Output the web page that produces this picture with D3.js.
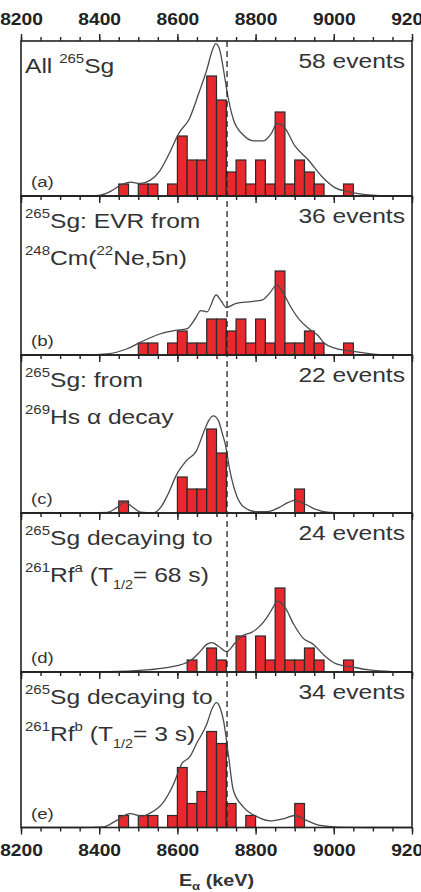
<!DOCTYPE html>
<html>
<head>
<meta charset="utf-8">
<script src="https://cdn.jsdelivr.net/npm/d3@7"></script>
<style>
  body { margin: 0; background: #fff; }
  text { font-family: "Liberation Sans", Arial, Helvetica, sans-serif; }
</style>
</head>
<body>
<script>
// 25 keV bins shared by all five panels
var binStarts = [8450, 8475, 8500, 8525, 8550, 8575, 8600, 8625, 8650, 8675, 8700, 8725,
                 8750, 8775, 8800, 8825, 8850, 8875, 8900, 8925, 8950, 8975, 9000, 9025];
var binWidth = 25;

var countsA = [1,0,1,1,0,1,5,3,3,10,8,2,3,1,3,1,7,1,3,2,1,0,0,1];
var countsB = [0,0,1,1,0,1,2,1,1,3,3,2,3,1,3,1,7,1,1,2,1,0,0,1];
var countsC = [1,0,0,0,0,0,3,2,2,7,5,0,0,0,0,0,0,0,2,0,0,0,0,0];
var countsD = [0,0,0,0,0,0,0,1,0,2,1,0,3,0,3,1,7,1,1,2,1,0,0,1];
var countsE = [1,0,1,1,0,1,5,2,3,8,7,2,0,1,0,0,0,0,2,0,0,0,0,0];

// smoothed spectra (energy, counts)
var curveA = [[8200,0],[8350,0],[8400,0.05],[8430,0.4],[8455,0.9],[8480,1.15],[8505,1.05],[8530,1.3],
  [8555,2.1],[8580,3.6],[8605,5.3],[8630,6.4],[8655,8.6],[8675,10.5],[8690,12.2],[8698,12.7],
  [8708,12.2],[8718,10.5],[8728,8.5],[8743,6.4],[8768,5.1],[8795,4.6],[8820,4.6],[8840,5.2],
  [8855,6.05],[8872,5.8],[8900,4.2],[8935,3.0],[8970,1.6],[9005,0.65],[9040,0.35],[9080,0.12],
  [9150,0],[9200,0]];
var curveB = [[8200,0],[8350,0],[8420,0.1],[8470,0.5],[8505,1.05],[8555,1.75],[8595,2.05],[8625,2.2],
  [8645,3.0],[8660,3.7],[8676,3.6],[8699,5.0],[8712,4.5],[8725,3.95],[8750,4.3],[8790,4.45],
  [8818,4.6],[8837,5.2],[8854,5.85],[8870,5.2],[8890,4.0],[8913,2.9],[8940,2.1],[8960,1.6],
  [8975,1.0],[9005,0.55],[9050,0.3],[9100,0.08],[9150,0],[9200,0]];
var curveC = [[8200,0],[8350,0],[8420,0.05],[8445,0.45],[8465,0.9],[8485,0.5],[8505,0.08],[8540,0.02],
  [8560,0.6],[8575,1.5],[8598,3.2],[8624,4.4],[8649,5.2],[8668,6.8],[8680,7.7],[8692,8.1],
  [8705,7.7],[8715,6.6],[8722,5.8],[8735,3.4],[8752,1.4],[8770,0.5],[8800,0.12],[8830,0.12],
  [8860,0.45],[8885,0.9],[8900,1.05],[8920,0.85],[8950,0.35],[8990,0.05],[9050,0],[9200,0]];
var curveD = [[8200,0],[8350,0],[8450,0.05],[8530,0.2],[8580,0.4],[8632,0.92],[8658,1.7],[8675,2.3],
  [8688,2.45],[8705,2.15],[8726,1.7],[8747,2.4],[8765,3.0],[8790,3.3],[8810,3.8],[8830,4.6],
  [8845,5.4],[8855,5.9],[8875,5.4],[8897,4.0],[8922,2.8],[8948,2.3],[8975,1.4],[9005,0.7],
  [9050,0.4],[9090,0.17],[9150,0.03],[9200,0]];
var curveE = [[8200,0],[8350,0],[8410,0.05],[8445,0.6],[8478,1.15],[8510,0.95],[8530,1.2],[8564,2.1],
  [8590,3.6],[8611,5.3],[8632,5.9],[8649,7.0],[8675,8.6],[8690,10.0],[8700,10.4],[8710,9.9],
  [8718,8.9],[8731,5.9],[8743,3.1],[8769,1.7],[8803,0.9],[8837,0.55],[8870,0.72],[8900,1.0],
  [8930,0.6],[8965,0.17],[9010,0.03],[9080,0],[9200,0]];

var eventLabels = ["58 events", "36 events", "22 events", "24 events", "34 events"];
var panelLetters = ["(a)", "(b)", "(c)", "(d)", "(e)"];
var titleLines = [
  [[["All ", "n"], ["265", "sup"], ["Sg", "n"]]],
  [[["265", "sup"], ["Sg: EVR from", "n"]],
   [["248", "sup"], ["Cm(", "n"], ["22", "sup"], ["Ne,5n)", "n"]]],
  [[["265", "sup"], ["Sg: from", "n"]],
   [["269", "sup"], ["Hs \u03b1 decay", "n"]]],
  [[["265", "sup"], ["Sg decaying to", "n"]],
   [["261", "sup"], ["Rf", "n"], ["a", "sup"], [" (T", "n"], ["1/2", "sub"], ["= 68 s)", "n"]]],
  [[["265", "sup"], ["Sg decaying to", "n"]],
   [["261", "sup"], ["Rf", "n"], ["b", "sup"], [" (T", "n"], ["1/2", "sub"], ["= 3 s)", "n"]]]
];
var majorTicks = [8200, 8400, 8600, 8800, 9000, 9200];
var dashedEnergy = 8727;

var allCounts = [countsA, countsB, countsC, countsD, countsE];
var allCurves = [curveA, curveB, curveC, curveD, curveE];

var width = 421, height = 892;
// panel borders from top to bottom
var edges = [41, 196, 355, 513, 672, 827.5];
var unit = 12;       // pixels per count
var stretch = 1.2;   // the figure is stretched sideways

var x = d3.scaleLinear().domain([8200, 9200]).range([21, 412]);
var minorTicks = d3.range(8200, 9201, 50);

var svg = d3.select("body").append("svg")
    .attr("width", width)
    .attr("height", height);

function richText(g, px, py, parts, size, anchor, weight) {
    var t = g.append("text")
        .attr("transform", "translate(" + px + "," + py + ") scale(" + stretch + ",1)")
        .attr("font-size", size)
        .attr("font-weight", weight || "normal")
        .attr("text-anchor", anchor || "start")
        .attr("fill", "#333")
        .style("white-space", "pre");
    var shift = 0;
    parts.forEach(function(p) {
        var dy, fs = size;
        if (p[1] === "sup") { dy = -10 - shift; shift = -10; fs = 12.5; }
        else if (p[1] === "sub") { dy = 7 - shift; shift = 7; fs = 12; }
        else if (p[1] === "sub2") { dy = 4 - shift; shift = 4; fs = 11; }
        else { dy = -shift; shift = 0; }
        t.append("tspan").attr("dy", dy).attr("font-size", fs).text(p[0]);
    });
    return t;
}

function styleTicks(a, labels) {
    a.select(".domain").remove();
    a.selectAll("line").attr("stroke", "#222").attr("stroke-width", 1.4);
    if (labels) {
        a.selectAll("text").attr("font-size", 16).attr("font-weight", "bold")
            .attr("fill", "#222").attr("transform", "scale(" + stretch + ",1)")
            .attr("font-family", "Liberation Sans, Arial, sans-serif");
    }
}

var line = d3.line()
    .x(function(d) { return x(d[0]); })
    .curve(d3.curveMonotoneX);

allCounts.forEach(function(counts, i) {
    var top = edges[i], bottom = edges[i + 1];
    var y = d3.scaleLinear().domain([0, (bottom - top) / unit]).range([bottom, top]);
    var g = svg.append("g");

    var bins = binStarts.map(function(b, k) { return {e: b, n: counts[k]}; })
        .filter(function(d) { return d.n > 0; });

    g.selectAll(".bar")
        .data(bins)
        .enter().append("rect")
        .attr("class", "bar")
        .attr("x", function(d) { return x(d.e); })
        .attr("y", function(d) { return y(d.n); })
        .attr("width", function(d) { return x(d.e + binWidth) - x(d.e); })
        .attr("height", function(d) { return bottom - y(d.n); })
        .attr("fill", "#e8282d")
        .attr("stroke", "#2a2a2a")
        .attr("stroke-width", 1.2);

    line.y(function(d) { return y(d[1]); });
    g.append("path")
        .datum(allCurves[i])
        .attr("fill", "none")
        .attr("stroke", "#4a4a4a")
        .attr("stroke-width", 1.3)
        .attr("d", line);

    // ticks on the lower edge, pointing down
    g.append("g")
        .attr("transform", "translate(0," + bottom + ")")
        .call(d3.axisBottom(x).tickValues(minorTicks).tickSize(4).tickFormat(""))
        .call(function(a) { styleTicks(a, false); });
    g.append("g")
        .attr("transform", "translate(0," + bottom + ")")
        .call(d3.axisBottom(x).tickValues(majorTicks).tickSize(7).tickPadding(10)
            .tickFormat(i === 4 ? d3.format("d") : ""))
        .call(function(a) { styleTicks(a, i === 4); });

    g.append("rect")
        .attr("x", x(8200)).attr("y", top)
        .attr("width", x(9200) - x(8200)).attr("height", bottom - top)
        .attr("fill", "none")
        .attr("stroke", "#222")
        .attr("stroke-width", 1.6);

    titleLines[i].forEach(function(parts, k) {
        richText(g, 25, top + (k === 0 ? 32 : 69), parts, 20.5);
    });
    richText(g, 405, top + 27, [[eventLabels[i], "n"]], 20.5, "end");
    richText(g, 31, bottom - 9, [[panelLetters[i], "n"]], 15.5);
});

// top axis
var topAxis = svg.append("g").attr("transform", "translate(0," + edges[0] + ")");
topAxis.append("g")
    .call(d3.axisTop(x).tickValues(minorTicks).tickSize(4).tickFormat(""))
    .call(function(a) { styleTicks(a, false); });
topAxis.append("g")
    .call(d3.axisTop(x).tickValues(majorTicks).tickSize(7).tickPadding(9).tickFormat(d3.format("d")))
    .call(function(a) { styleTicks(a, true); });

// dashed reference energy through all panels
svg.append("line")
    .attr("x1", x(dashedEnergy)).attr("x2", x(dashedEnergy))
    .attr("y1", edges[0]).attr("y2", edges[5])
    .attr("stroke", "#222")
    .attr("stroke-width", 1.3)
    .attr("stroke-dasharray", "6,4");

richText(svg, (x(8200) + x(9200)) / 2, 886, [["E", "n"], ["\u03b1", "sub2"], [" (keV)", "n"]], 16.5, "middle", "bold");
</script>
</body>
</html>
